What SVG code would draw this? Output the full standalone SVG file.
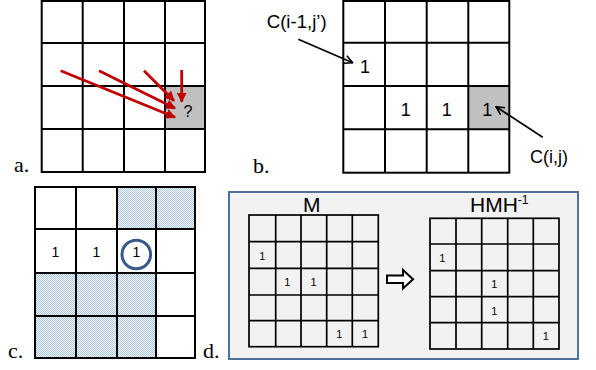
<svg xmlns="http://www.w3.org/2000/svg" width="596" height="370" viewBox="0 0 596 370">
<defs>
<style>
.g{fill:none;stroke:#000;stroke-width:2}
.gs{fill:none;stroke:#000;stroke-width:1.7}
.lab{font-family:"Liberation Serif",serif;font-size:22px;fill:#000}
.sans{font-family:"Liberation Sans",Arial,sans-serif;fill:#000}
.red{stroke:#c00000;stroke-width:2.8;fill:none}
.blk{stroke:#000;stroke-width:1.7;fill:none}
</style>
<marker id="rh" viewBox="0 0 10 10" refX="9" refY="5" markerWidth="3.6" markerHeight="3.6" orient="auto" markerUnits="strokeWidth">
<path d="M0,0 L10,5 L0,10 Z" fill="#c00000"/>
</marker>
<marker id="bh" viewBox="0 0 10 10" refX="9" refY="5" markerWidth="6" markerHeight="6" orient="auto" markerUnits="strokeWidth">
<path d="M1,1 L9,5 L1,9" fill="none" stroke="#000" stroke-width="1.6"/>
</marker>
<pattern id="hatch" width="2" height="2" patternUnits="userSpaceOnUse">
<rect width="2" height="2" fill="#ffffff"/>
<rect width="1" height="1" fill="#a3c0e6"/>
<rect x="1" y="1" width="1" height="1" fill="#a3c0e6"/>
</pattern>
</defs>
<rect width="596" height="370" fill="#fff"/>

<!-- Panel a -->
<g id="gridA">
<rect x="165" y="86" width="40" height="43" fill="#c0c0c0"/>
<rect class="g" x="41.7" y="1" width="163.3" height="171"/>
<path class="g" d="M82.7,1V172M124,1V172M165,1V172M41.7,43H205M41.7,86H205M41.7,129H205"/>
<text class="sans" x="188" y="117" font-size="16" text-anchor="middle">?</text>
</g>
<text id="labelA" class="lab" x="14" y="172">a.</text>

<!-- Panel b -->
<g id="gridB">
<rect x="468.3" y="86" width="41" height="43.3" fill="#c0c0c0"/>
<rect class="g" x="343.3" y="1" width="166" height="171.7"/>
<path class="g" d="M385,1V172.7M426.7,1V172.7M468.3,1V172.7M343.3,42.7H509.3M343.3,86H509.3M343.3,129.3H509.3"/>
<g class="sans" font-size="18" text-anchor="middle">
<text x="365" y="73">1</text>
<text x="405.7" y="116">1</text>
<text x="446.7" y="116">1</text>
<text x="487.3" y="116">1</text>
</g>
</g>
<text id="labelCi1" class="sans" x="266.7" y="28" font-size="18" textLength="60" lengthAdjust="spacingAndGlyphs">C(i-1,j’)</text>
<text id="labelCij" class="sans" x="530" y="163" font-size="18">C(i,j)</text>
<text id="labelB" class="lab" x="253" y="172.7">b.</text>

<!-- Panel c -->
<g id="gridC">
<rect x="117" y="187" width="78" height="42" fill="url(#hatch)"/>
<rect x="35" y="273" width="121" height="85" fill="url(#hatch)"/>
<rect class="g" x="35" y="187" width="160" height="171"/>
<path class="g" d="M76,187V358M117,187V358M156,187V358M35,229H195M35,273H195M35,316H195"/>
<g class="sans" font-size="14" text-anchor="middle">
<text x="55.5" y="256.5">1</text>
<text x="96.5" y="256.5">1</text>
<text x="136.5" y="256.5">1</text>
</g>
<circle cx="136.3" cy="254.5" r="14.3" fill="none" stroke="#3a5a8c" stroke-width="3"/>
</g>
<text id="labelC" class="lab" x="8" y="358">c.</text>
<text id="labelD" class="lab" x="203" y="358">d.</text>

<!-- Panel d -->
<g id="panelD">
<rect x="229" y="192" width="349" height="167" fill="#f2f2f2" stroke="#51729f" stroke-width="2"/>
</g>
<g id="matrixM">
<text class="sans" x="311.7" y="211.5" font-size="21" text-anchor="middle">M</text>
<rect class="gs" x="249" y="215" width="129.3" height="131.7"/>
<path class="gs" d="M275.7,215V346.7M301,215V346.7M326.7,215V346.7M352.3,215V346.7M249,241.7H378.3M249,268.3H378.3M249,295H378.3M249,320.7H378.3"/>
<g class="sans" font-size="11" text-anchor="middle">
<text x="262.3" y="260">1</text>
<text x="287.3" y="285.5">1</text>
<text x="313.5" y="285.5">1</text>
<text x="339.3" y="338">1</text>
<text x="365" y="338">1</text>
</g>
</g>
<g id="arrowD">
<path d="M387,275.5H403V270L413,279.3L403,288.5V283H387Z" fill="#fff" stroke="#000" stroke-width="2" stroke-linejoin="miter"/>
</g>
<g id="matrixHMH">
<text class="sans" x="470" y="212" font-size="21">HMH<tspan font-size="12" dy="-8.5">-1</tspan></text>
<rect class="gs" x="430" y="218.3" width="129" height="130.7"/>
<path class="gs" d="M456,218.3V349M481.7,218.3V349M507.7,218.3V349M533.3,218.3V349M430,244H559M430,270.7H559M430,296.7H559M430,322.7H559"/>
<g class="sans" font-size="11" text-anchor="middle">
<text x="442.3" y="261.5">1</text>
<text x="494.3" y="288">1</text>
<text x="494.3" y="315">1</text>
<text x="545.7" y="340">1</text>
</g>
</g>

<!-- Connectors -->
<g id="connectors">
<line class="red" x1="60.7" y1="70.7" x2="175" y2="117.3" marker-end="url(#rh)"/>
<line class="red" x1="99" y1="70.7" x2="175" y2="108.3" marker-end="url(#rh)"/>
<line class="red" x1="144" y1="70.7" x2="174" y2="100.7" marker-end="url(#rh)"/>
<line class="red" x1="181.7" y1="70" x2="181.7" y2="101.7" marker-end="url(#rh)"/>
<line class="blk" x1="298.3" y1="39.3" x2="352.7" y2="62.7" marker-end="url(#bh)"/>
<line class="blk" x1="542.7" y1="137.3" x2="496" y2="106.7" marker-end="url(#bh)"/>
</g>
</svg>
